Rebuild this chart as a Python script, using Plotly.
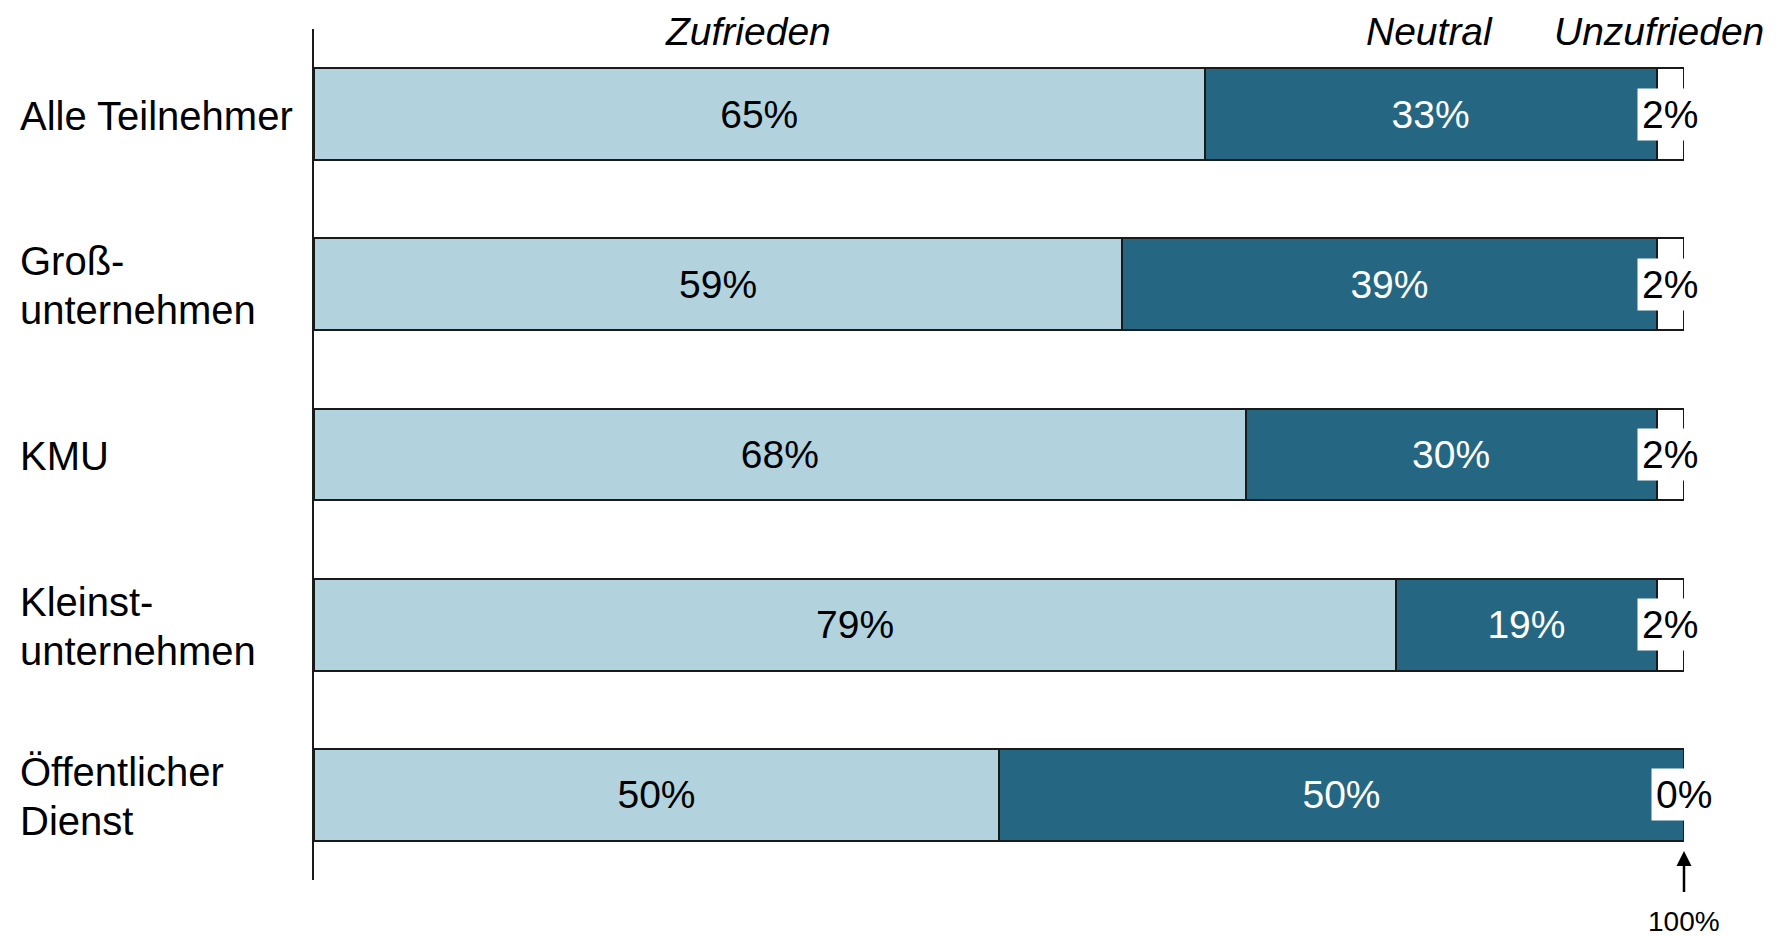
import plotly.graph_objects as go

categories = ["Alle Teilnehmer", "Groß-<br>unternehmen", "KMU", "Kleinst-<br>unternehmen", "Öffentlicher<br>Dienst"]
series_names = ["Zufrieden", "Neutral", "Unzufrieden"]
zufrieden = [65, 59, 68, 79, 50]
neutral = [33, 39, 30, 19, 50]
unzufrieden = [2, 2, 2, 2, 0]

FONT = "Arial, Liberation Sans, sans-serif"
LIGHT = "#B2D3DE"
DARK = "#256782"
W, H = 1783, 936
OFF = 8  # page body margin
ML, MT = 314 - OFF, 29 - OFF
MR = W - (1684 - OFF)
MB = H - (880 - OFF)
PW = W - ML - MR
PH = H - MT - MB

ypos = list(range(len(categories)))

fig = go.Figure()
fig.add_trace(go.Bar(
    y=ypos, x=zufrieden, orientation="h", name=series_names[0],
    marker=dict(color=LIGHT, line=dict(color="#1a1a1a", width=2)),
    text=[f"{v}%" for v in zufrieden], textposition="inside",
    insidetextanchor="middle", textangle=0,
    textfont=dict(family=FONT, size=39, color="black"),
))
fig.add_trace(go.Bar(
    y=ypos, x=neutral, orientation="h", name=series_names[1],
    marker=dict(color=DARK, line=dict(color="#1a1a1a", width=2)),
    text=[f"{v}%" for v in neutral], textposition="inside",
    insidetextanchor="middle", textangle=0,
    textfont=dict(family=FONT, size=39, color="white"),
))
fig.add_trace(go.Bar(
    y=ypos, x=unzufrieden, orientation="h", name=series_names[2],
    marker=dict(color="white", line=dict(color="#1a1a1a", width=2)),
))

annotations = []
# labels for Unzufrieden with white background
for i, (z, n, u) in enumerate(zip(zufrieden, neutral, unzufrieden)):
    annotations.append(dict(
        x=z + n + u / 2, y=i, xref="x", yref="y", text=f"{u}%", showarrow=False,
        font=dict(family=FONT, size=39, color="black"), bgcolor="white", borderpad=4,
        xanchor="center", yanchor="middle",
    ))
# category labels (one annotation per line for tighter line spacing)
LINE = 49
for i, c in enumerate(categories):
    lines = c.split("<br>")
    for k, ln in enumerate(lines):
        shift = ((len(lines) - 1) / 2 - k) * LINE
        annotations.append(dict(
            x=(18 - OFF - ML) / PW, y=i, xref="paper", yref="y", text=ln, showarrow=False,
            font=dict(family=FONT, size=40, color="black"), xanchor="left", yanchor="middle",
            yshift=shift - 1.5,
        ))
# headers
header_x = [31.7, 81.4, 98.2]
for name, hx in zip(series_names, header_x):
    annotations.append(dict(
        x=hx, y=(H - MB - (31 - OFF)) / PH, xref="x", yref="paper",
        text=f"<i>{name}</i>", showarrow=False,
        font=dict(family=FONT, size=39, color="black"), xanchor="center", yanchor="middle",
    ))
# 100% arrow
annotations.append(dict(
    x=100, y=4.33, xref="x", yref="y", text="100%", showarrow=True,
    ax=0, ay=70, arrowhead=2, arrowsize=1.2, arrowwidth=2.5, arrowcolor="black",
    startstandoff=12, font=dict(family=FONT, size=28, color="black"),
))

fig.update_layout(
    width=W, height=H, barmode="stack", bargap=0.46,
    margin=dict(l=ML, r=MR, t=MT, b=MB),
    plot_bgcolor="white", paper_bgcolor="white", showlegend=False,
    annotations=annotations,
)
fig.update_xaxes(range=[0, 100], showgrid=False, zeroline=False, showticklabels=False, showline=False, ticks="")
fig.update_yaxes(range=[4.5, -0.5], showgrid=False, zeroline=False, showticklabels=False,
                 showline=True, linecolor="#1a1a1a", linewidth=2, ticks="")

fig.write_html("out.html")
